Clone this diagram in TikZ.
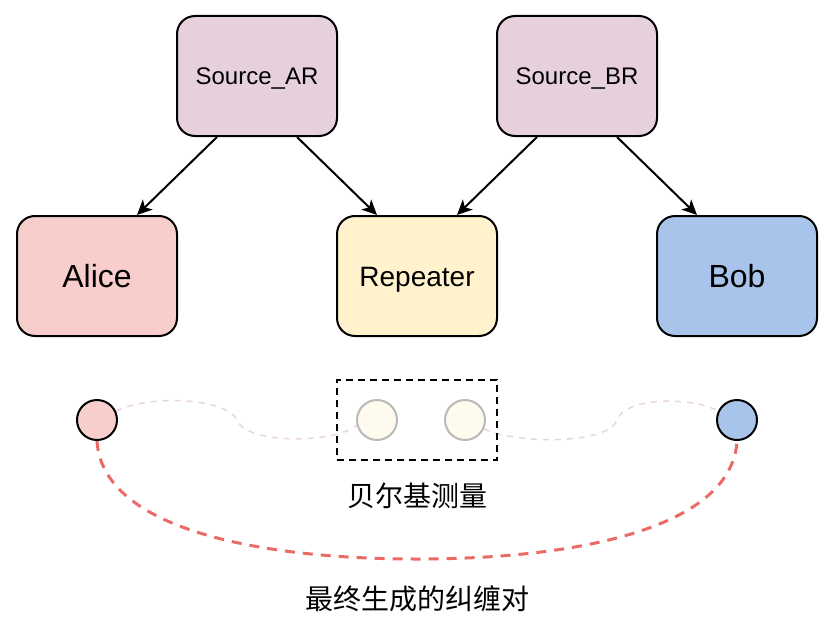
\documentclass[tikz,border=0pt]{standalone}
\usepackage{fontspec}
\setmainfont{Liberation Sans}
\newfontfamily\cjk{Noto Sans CJK SC}
\usepackage{tikz}
\usetikzlibrary{arrows.meta,positioning,calc,backgrounds}
\definecolor{qnedge}{RGB}{0,0,0}
\definecolor{qnsrc}{RGB}{230,208,222}
\definecolor{qnalice}{RGB}{248,206,204}
\definecolor{qnrep}{RGB}{255,242,204}
\definecolor{qnbob}{RGB}{169,196,235}
\definecolor{qnfaint}{RGB}{255,250,238}
\definecolor{qngrey}{RGB}{185,185,185}
\definecolor{qnlink}{RGB}{232,212,224}
\definecolor{qnpair}{RGB}{234,107,102}
\tikzset{
  qnbox/.style={
    draw=qnedge, line width=1pt, rounded corners=9pt,
    align=center, minimum width=80pt, minimum height=60pt, text depth=0pt
  },
  src/.style={qnbox, fill=qnsrc, font=\fontsize{12}{14}\selectfont, text height=8.6pt},
  party/.style={qnbox, font=\fontsize{16}{19}\selectfont, text height=11.5pt},
  rep/.style={qnbox, fill=qnrep, font=\fontsize{14}{17}\selectfont, text height=10pt},
  qbit/.style={circle, draw=qnedge, line width=1pt, minimum size=20pt, inner sep=0pt},
  fadeq/.style={qbit, draw=qngrey, fill=qnfaint},
  arr/.style={-{Stealth[length=7.5pt,width=7pt,inset=2pt]}, draw=qnedge, line width=1pt},
  meas/.style={draw=qnedge, line width=1pt, dash pattern=on 3.5pt off 2.5pt,
    minimum width=80pt, minimum height=40pt, inner sep=0pt},
  link/.style={draw=qnlink, line width=0.75pt, dash pattern=on 3pt off 3pt},
  pair/.style={draw=qnpair, line width=1.5pt, dash pattern=on 5pt off 4pt},
  lbl/.style={font=\cjk\fontsize{14}{17}\selectfont, inner sep=0pt}
}
\begin{document}
\begin{tikzpicture}[x=0.5pt, y=-0.5pt]
  \useasboundingbox (0,0) rectangle (834,631);
  % parties
  \node[party, fill=qnalice] (alice) at (97,276) {Alice};
  \node[rep, right=79pt of alice] (repeater) {Repeater};
  \node[party, fill=qnbob, right=79pt of repeater] (bob) {Bob};
  % entanglement sources
  \coordinate (armid) at ($(alice.north)!.5!(repeater.north)$);
  \coordinate (brmid) at ($(repeater.north)!.5!(bob.north)$);
  \node[src, above=39pt of armid] (srcar) {Source\_AR};
  \node[src, above=39pt of brmid] (srcbr) {Source\_BR};
  \draw[arr] ([xshift=-20pt]srcar.south) -- ([xshift=20pt]alice.north);
  \draw[arr] ([xshift=20pt]srcar.south) -- ([xshift=-20pt]repeater.north);
  \draw[arr] ([xshift=-20pt]srcbr.south) -- ([xshift=20pt]repeater.north);
  \draw[arr] ([xshift=20pt]srcbr.south) -- ([xshift=-20pt]bob.north);
  % qubits
  \node[qbit, fill=qnalice, below=31pt of alice] (aq) {};
  \node[qbit, fill=qnbob, below=31pt of bob] (bq) {};
  \node[meas, below=21pt of repeater] (bsm) {};
  \node[fadeq, right=10pt of bsm.west] (lq) {};
  \node[fadeq, right=23pt of lq] (rq) {};
  \node[lbl, below=11pt of bsm] (bell) {贝尔基测量};
  \node[lbl, below=38pt of bell] (final) {最终生成的纠缠对};
  \coordinate (lbend) at ($(aq.east)!.5!(lq.west)$);
  \coordinate (rbend) at ($(rq.east)!.57!(bq.west)$);
  \coordinate[below=49pt of bsm.south] (dip);
  \begin{scope}[on background layer]
    \draw[link] (aq.25) .. controls +(34,-17) and +(-10,-22) .. (lbend)
      .. controls +(10,25) and +(-22,18) .. (lq.195);
    \draw[link] (rq.-25) .. controls +(35,16) and +(-8,24) .. (rbend)
      .. controls +(8,-24) and +(-22,-14) .. (bq.155);
  \end{scope}
  \draw[pair] (aq.south) .. controls +(5,85) and +(-167,0) .. (dip)
    .. controls +(167,0) and +(-5,85) .. (bq.south);
\end{tikzpicture}
\end{document}
